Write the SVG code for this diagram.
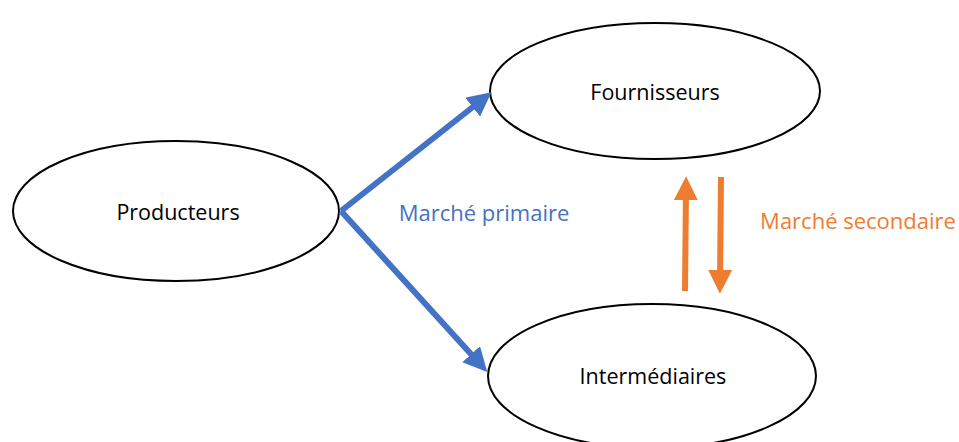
<svg xmlns="http://www.w3.org/2000/svg" width="959" height="442" viewBox="0 0 959 442">
<style>
.node{fill:#fff;stroke:#000;stroke-width:2}
.t{font-family:"Open Sans","Liberation Sans",sans-serif;font-size:21.5px;text-anchor:middle;dominant-baseline:central}
.blue{stroke:#4472C4;stroke-width:6;fill:none}
.orange{stroke:#ED7D31;stroke-width:6;fill:none}
</style>
<defs>
<marker id="ab" markerWidth="4" markerHeight="4" refX="2.2" refY="2" orient="auto" markerUnits="strokeWidth" viewBox="0 0 4 4"><path d="M0,0 L4,2 L0,4 Z" fill="#4472C4"/></marker>
<marker id="ao" markerWidth="4" markerHeight="4" refX="2.2" refY="2" orient="auto" markerUnits="strokeWidth" viewBox="0 0 4 4"><path d="M0,0 L4,2 L0,4 Z" fill="#ED7D31"/></marker>
</defs>
<rect width="959" height="442" fill="#fff"/>
<g id="producteurs"><ellipse class="node" cx="176" cy="211" rx="163" ry="70"/><text class="t" x="178" y="211">Producteurs</text></g>
<g id="fournisseurs"><ellipse class="node" cx="655" cy="91" rx="165" ry="68"/><text class="t" x="655" y="91">Fournisseurs</text></g>
<g id="intermediaires"><ellipse class="node" cx="652" cy="376" rx="164" ry="72"/><text class="t" x="653" y="375">Intermédiaires</text></g>
<g id="connectors">
<line class="blue" x1="341" y1="211" x2="483" y2="99" marker-end="url(#ab)"/>
<line class="blue" x1="341" y1="211" x2="480" y2="364" marker-end="url(#ab)"/>
<line class="orange" x1="685" y1="291" x2="686" y2="187" marker-end="url(#ao)"/>
<line class="orange" x1="721" y1="177" x2="720" y2="283" marker-end="url(#ao)"/>
<text x="484" y="212" style="font-family:'Open Sans','Liberation Sans',sans-serif;font-size:22px;fill:#4472C4;text-anchor:middle;dominant-baseline:central">Marché primaire</text>
<text x="858" y="220" style="font-family:'Open Sans','Liberation Sans',sans-serif;font-size:22px;fill:#ED7D31;text-anchor:middle;dominant-baseline:central">Marché secondaire</text>
</g>
</svg>
